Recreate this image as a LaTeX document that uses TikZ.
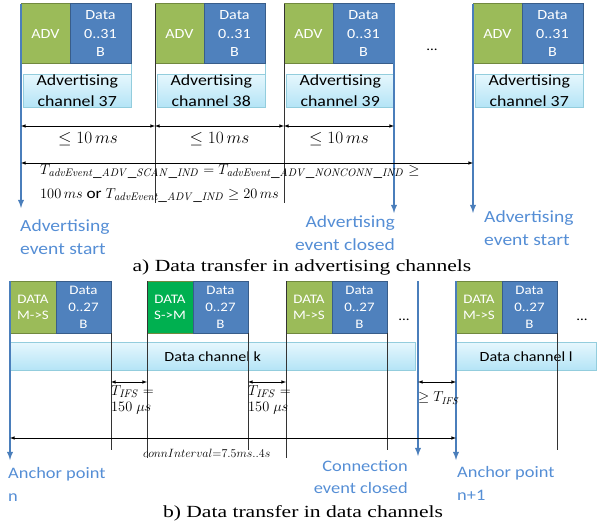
\documentclass[tikz,border=0pt]{standalone}
\usepackage[no-math]{fontspec}
\setmainfont{Carlito}[FakeStretch=1.15]
\newfontfamily\capfont{Liberation Serif}[FakeStretch=1.27]
\DeclareMathSizes{15}{15}{11}{8.5}
\usetikzlibrary{positioning}

\definecolor{advgreen}{HTML}{9BBB59}
\definecolor{advedge}{HTML}{71893F}
\definecolor{smgreen}{HTML}{00B050}
\definecolor{pdublue}{HTML}{4F81BD}
\definecolor{pduedge}{HTML}{385D8A}
\definecolor{chantop}{HTML}{E6F7FD}
\definecolor{chanbot}{HTML}{B4E4F6}
\definecolor{chanedge}{HTML}{93CDDD}
\definecolor{evblue}{HTML}{4A7EBB}
\definecolor{evtext}{HTML}{558ED5}

\tikzset{
  hdrbox/.style={draw=advedge, fill=advgreen, line width=1pt, text=white,
    minimum width=49pt, minimum height=60pt, inner sep=0pt, outer sep=0pt,
    anchor=north west, align=center, font=\fontsize{14}{16}\selectfont},
  pdubox/.style={hdrbox, draw=pduedge, fill=pdublue, minimum width=61pt,
    font=\fontsize{14}{18.5}\selectfont},
  chanbox/.style={draw=chanedge, top color=chantop, bottom color=chanbot,
    inner sep=0pt, anchor=north west, align=center},
  evarrow/.style={evblue, line width=1.8pt, -latex},
  tickline/.style={line width=0.6pt, black!80},
  dimarrow/.style={latex-latex, line width=0.6pt},
  evlabel/.style={text=evtext, inner sep=0pt, font=\fontsize{17}{23}\selectfont},
}

\begin{document}
\begin{tikzpicture}[x=1pt, y=-1pt]
  \useasboundingbox (0,0) rectangle (600,524);

  % advertising events: one packet per channel
  \foreach \x/\ch [count=\i] in {21/37,155/38,284/39,473/37}{
    \node[hdrbox] (adv\i) at (\x,4) {ADV};
    \node[pdubox, right=0pt of adv\i] (apl\i) {Data\\0..31\\B};
    \node[chanbox, minimum width=108pt, minimum height=33pt,
      font=\fontsize{15.5}{20.5}\selectfont] (ach\i) at (\x+2,74) {Advertising\\channel \ch};
    \draw[chanedge, line width=0.4pt] (apl\i.south east) -- (apl\i.south east |- ach\i.north);
  }
  \node[font=\fontsize{13}{13}\selectfont] (adots) at (432,50) {...};

  \coordinate (tickA) at (0,203);
  \coordinate (dimA) at (0,126);
  \coordinate (spanA) at (0,163);
  \draw[tickline] (adv2.north west) -- (adv2.north west |- tickA);
  \draw[tickline] (adv3.north west) -- (adv3.north west |- tickA);
  \draw[evarrow] (adv1.north west) -- (adv1.north west |- 0,208);
  \draw[evarrow] (apl3.north east) -- (apl3.north east |- 0,213);
  \draw[evarrow] (adv4.north west) -- (adv4.north west |- 0,213);

  \draw[dimarrow] (adv1.west |- dimA) -- (adv2.west |- dimA)
    node[midway, below=6pt, inner sep=0pt, font=\fontsize{16}{18}\selectfont] {$\leq 10\,ms$};
  \draw[dimarrow] (adv2.west |- dimA) -- (adv3.west |- dimA)
    node[midway, below=6pt, inner sep=0pt, font=\fontsize{16}{18}\selectfont] {$\leq 10\,ms$};
  \draw[dimarrow] (adv3.west |- dimA) -- (apl3.east |- dimA)
    node[midway, below=6pt, inner sep=0pt, font=\fontsize{16}{18}\selectfont] {$\leq 10\,ms$};
  \draw[dimarrow] (adv1.west |- spanA) -- (adv4.west |- spanA);

  \node[anchor=north west, align=left, inner sep=0pt,
    font=\fontsize{15}{24}\selectfont] (tadv) at (40,164)
    {$T_{\mathit{advEvent\_ADV\_SCAN\_IND}} = T_{\mathit{advEvent\_ADV\_NONCONN\_IND}} \geq$\\
     $100\,ms$ or $T_{\mathit{advEvent\_ADV\_IND}} \geq 20\,ms$};

  \node[evlabel, align=left, anchor=north west] (evstart) at (20,219) {Advertising\\event start};
  \node[evlabel, align=right, anchor=north east] (evclose) at (395,215) {Advertising\\event closed};
  \node[evlabel, align=left, anchor=north west] (evnext) at (484,210) {Advertising\\event start};

  \node[font=\capfont\fontsize{17}{18}\selectfont] (capa) at (302,267)
    {a) Data transfer in advertising channels};

  % connection events on the data channels
  \foreach \x/\dir/\col [count=\i] in {10/M->S/advgreen,147/S->M/smgreen,286/M->S/advgreen,456/M->S/advgreen}{
    \node[hdrbox, fill=\col, minimum width=46pt, minimum height=52pt,
      font=\fontsize{13}{16}\selectfont] (dh\i) at (\x,281) {DATA\\\dir};
    \node[pdubox, minimum width=55pt, minimum height=52pt,
      font=\fontsize{13}{17}\selectfont, right=0pt of dh\i] (dp\i) {Data\\0..27\\B};
  }
  \node[chanbox, minimum width=405pt, minimum height=28pt,
    font=\fontsize{14}{16}\selectfont] (chk) at (10,342) {Data channel k};
  \node[chanbox, minimum width=140pt, minimum height=28pt,
    font=\fontsize{14}{16}\selectfont] (chl) at (456,342) {Data channel l};
  \node[font=\fontsize{13}{13}\selectfont] (ddots1) at (404,320) {...};
  \node[font=\fontsize{13}{13}\selectfont] (ddots2) at (582,320) {...};

  \coordinate (endS) at (0,450);
  \coordinate (endL) at (0,458);
  \coordinate (ifs) at (0,382);
  \coordinate (conn) at (0,438);
  \coordinate (closeTop) at (418,281);
  \draw[tickline] (dp1.south east) -- (dp1.south east |- endS);
  \draw[tickline] (dh2.north west) -- (dh2.north west |- endL);
  \draw[tickline] (dp2.south east) -- (dp2.south east |- endS);
  \draw[tickline] (dh3.north west) -- (dh3.north west |- endL);
  \draw[tickline] (dp3.south east) -- (dp3.south east |- endS);
  \draw[tickline] (dp4.south east) -- (dp4.south east |- endS);
  \draw[evarrow] (dh1.north west) -- (dh1.north west |- 0,460);
  \draw[evarrow] (closeTop) -- (closeTop |- 0,456);
  \draw[evarrow] (dh4.north west) -- (dh4.north west |- 0,460);

  \draw[dimarrow] (dp1.east |- ifs) -- (dh2.west |- ifs);
  \draw[dimarrow] (dp2.east |- ifs) -- (dh3.west |- ifs);
  \draw[dimarrow] (closeTop |- ifs) -- (dh4.west |- ifs);
  \node[anchor=north west, align=left, inner sep=0pt, font=\fontsize{15}{16}\selectfont]
    (ifs1) at (dp1.east |- 0,385) {$T_{\mathit{IFS}} =$\\$150\ \mu s$};
  \node[anchor=north west, align=left, inner sep=0pt, font=\fontsize{15}{16}\selectfont]
    (ifs2) at (dp2.east |- 0,385) {$T_{\mathit{IFS}} =$\\$150\ \mu s$};
  \node[anchor=west, inner sep=0pt, font=\fontsize{14}{16}\selectfont]
    (ifs3) at (418,398) {$\geq T_{\mathit{IFS}}$};

  \draw[dimarrow] (dh1.west |- conn) -- (dh4.west |- conn);
  \node[anchor=west, inner sep=0pt, font=\fontsize{12.5}{14}\selectfont]
    (connint) at (143,453) {$connInterval{=}7.5ms..4s$};

  \node[evlabel, align=left, anchor=north west, font=\fontsize{16}{23}\selectfont]
    (anchn) at (8,467) {Anchor point\\n};
  \node[evlabel, align=right, anchor=north east, font=\fontsize{16}{22}\selectfont]
    (connclose) at (408,460) {Connection\\event closed};
  \node[evlabel, align=left, anchor=north west, font=\fontsize{16}{23}\selectfont]
    (anchn1) at (457,466) {Anchor point\\n+1};

  \node[font=\capfont\fontsize{17}{18}\selectfont] (capb) at (303,513)
    {b) Data transfer in data channels};
\end{tikzpicture}
\end{document}
